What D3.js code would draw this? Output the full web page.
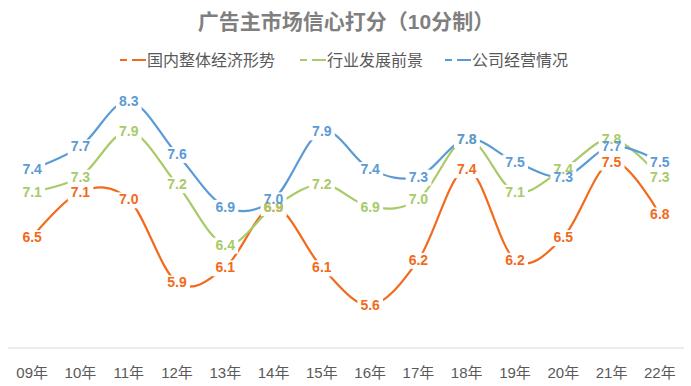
<!DOCTYPE html>
<html><head><meta charset="utf-8">
<script src="https://cdn.jsdelivr.net/npm/d3@7"></script>
<style>body{margin:0;background:#fff}svg{display:block}</style>
</head><body>
<script>
const categories = ["09年","10年","11年","12年","13年","14年","15年","16年","17年","18年","19年","20年","21年","22年"];
const seriesNames = ["国内整体经济形势","行业发展前景","公司经营情况"];
const economy = [6.5,7.1,7.0,5.9,6.1,6.9,6.1,5.6,6.2,7.4,6.2,6.5,7.5,6.8];
const industry = [7.1,7.3,7.9,7.2,6.4,6.9,7.2,6.9,7.0,7.8,7.1,7.4,7.8,7.3];
const company = [7.4,7.7,8.3,7.6,6.9,7.0,7.9,7.4,7.3,7.8,7.5,7.3,7.7,7.5];
const colors = ["#F26A1B","#A8CA68","#5B9BD5"];
const title = "广告主市场信心打分（10分制）";

const W=691,H=386;
const svg=d3.select("body").append("svg").attr("width",W).attr("height",H);
const font="'Liberation Sans','Noto Sans CJK SC',Arial,sans-serif";

const x=d3.scaleBand().domain(categories).range([8,684]);
const cx=c=>x(c)+x.bandwidth()/2;
const y=d3.scaleLinear().domain([5,8.5]).range([350.5,86]);

svg.append("text").attr("x",346).attr("y",29).attr("text-anchor","middle")
  .attr("font-family",font).attr("font-weight","bold").attr("font-size",21)
  .attr("fill","#7F7F7F").text(title);

// legend
const legX=[120,300,445];
seriesNames.forEach((n,i)=>{
  const g=svg.append("g").attr("transform",`translate(${legX[i]},60)`);
  g.append("line").attr("x1",0).attr("x2",26).attr("y1",0).attr("y2",0)
    .attr("stroke",colors[i]).attr("stroke-width",2.2).attr("stroke-dasharray","7,5,14");
  g.append("text").attr("x",27).attr("y",6).attr("font-family",font).attr("font-size",16)
    .attr("fill","#595959").text(n);
});

// axis
svg.append("line").attr("x1",8).attr("x2",684).attr("y1",348).attr("y2",348)
  .attr("stroke","#D9D9D9").attr("stroke-width",1);
const ax=d3.axisBottom(x).tickSize(0).tickPadding(0);
const axg=svg.append("g").attr("transform","translate(0,367)").call(ax);
axg.select(".domain").remove();
axg.selectAll("text").attr("font-family",font).attr("font-size",15).attr("fill","#595959");

const data=[economy,industry,company];
const labelG=svg.append("g");
const boxes=[];
data.forEach((vals,i)=>{
  vals.forEach((v,j)=>{
    const t=labelG.append("text").attr("x",cx(categories[j])).attr("y",y(v)+5)
      .attr("text-anchor","middle").attr("font-family",font).attr("font-weight","bold")
      .attr("font-size",14).attr("fill",colors[i]).text(v.toFixed(1));
    boxes.push(t.node().getBBox());
  });
});
const defs=svg.append("defs");
const mask=defs.append("mask").attr("id","lm").attr("maskUnits","userSpaceOnUse")
  .attr("x",0).attr("y",0).attr("width",W).attr("height",H);
mask.append("rect").attr("width",W).attr("height",H).attr("fill","#fff");
boxes.forEach(b=>{
  mask.append("rect").attr("x",b.x-3).attr("y",b.y+1).attr("width",b.width+6).attr("height",b.height).attr("fill","#000");
});
const line=d3.line().x((d,j)=>cx(categories[j])).y(d=>y(d)).curve(d3.curveCardinal.tension(0));
const lg=svg.insert("g",()=>labelG.node()).attr("mask","url(#lm)");
data.forEach((vals,i)=>{
  lg.append("path").attr("d",line(vals)).attr("fill","none").attr("stroke",colors[i]).attr("stroke-width",2.2);
});
</script>
</body></html>
